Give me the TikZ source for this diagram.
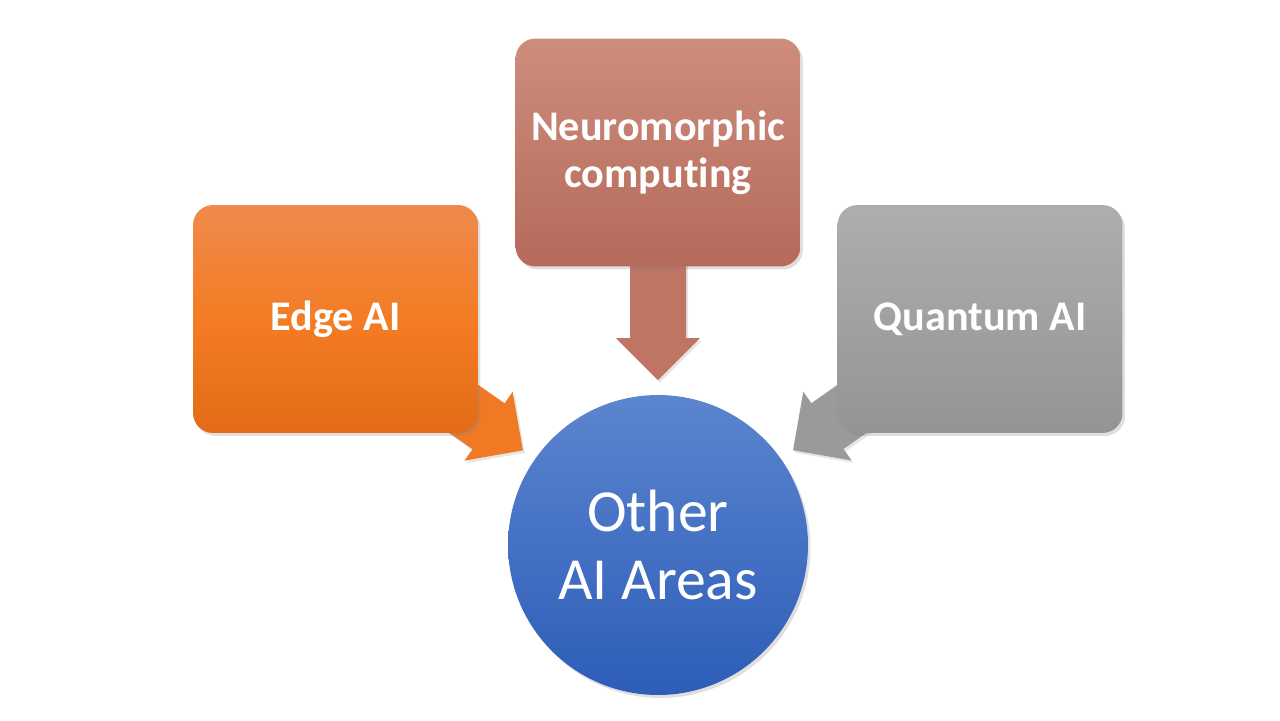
\documentclass[tikz,border=0pt]{standalone}
\usepackage{fontspec}
\setmainfont{Carlito}[Ligatures=NoCommon]
\usetikzlibrary{calc,shadows}
\pgfdeclarelayer{bg}
\pgfsetlayers{bg,main}

\definecolor{neurotop}{HTML}{CD8D7D}
\definecolor{neurobot}{HTML}{B56A5A}
\definecolor{neuroarr}{HTML}{C07464}
\definecolor{edgetop}{HTML}{EF8A4C}
\definecolor{edgemid}{HTML}{F37C24}
\definecolor{edgebot}{HTML}{E36B17}
\definecolor{edgearr}{HTML}{F07A24}
\definecolor{quanttop}{HTML}{AEAEAE}
\definecolor{quantbot}{HTML}{949494}
\definecolor{quantarr}{HTML}{9A9A9A}
\definecolor{othertop}{HTML}{5C85CF}
\definecolor{otherbot}{HTML}{2D5DB8}

\tikzset{
  box/.style={rounded corners=0.4cm, minimum width=5.7cm, minimum height=4.56cm,
    text=white, align=center, font=\bfseries\fontsize{24}{27}\selectfont,
    drop shadow={opacity=0.25, shadow xshift=0.05cm, shadow yshift=-0.06cm}},
  hub/.style={circle, minimum size=6cm, inner sep=0pt, text=white, align=center,
    font=\fontsize{34}{38.5}\selectfont,
    drop shadow={opacity=0.25, shadow xshift=0.05cm, shadow yshift=-0.06cm}},
}

% fat arrow from a box to the hub
\newcommand\bigarrow[2]{%
  \coordinate (#1-tip) at ($(other.center)!3.3cm!(#1.center)$);
  \coordinate (#1-base) at ($(#1-tip)!0.84cm!(#1.center)$);
  \fill[#2, drop shadow={opacity=0.2, shadow xshift=0.04cm, shadow yshift=-0.05cm}]
    ($(#1.center)!0.56cm!90:(#1-tip)$) -- ($(#1-base)!0.56cm!90:(#1-tip)$)
    -- ($(#1-base)!0.84cm!90:(#1-tip)$) -- (#1-tip)
    -- ($(#1-base)!0.84cm!-90:(#1-tip)$) -- ($(#1-base)!0.56cm!-90:(#1-tip)$)
    -- ($(#1.center)!0.56cm!-90:(#1-tip)$) -- cycle;
}

\begin{document}
\begin{tikzpicture}[x=0.02cm, y=-0.02cm]
  \useasboundingbox (0,0) rectangle (1280,720);

  \node[box, top color=neurotop, bottom color=neurobot] (neuro) at (658,152.5) {Neuromorphic\\computing};
  \node[box, top color=edgetop, bottom color=edgebot, middle color=edgemid] (edge) at (335.5,319) {Edge AI};
  \node[box, top color=quanttop, bottom color=quantbot] (quant) at (980,319) {Quantum AI};
  \node[hub, top color=othertop, bottom color=otherbot] (other) at (658,545) {Other\\AI Areas};

  \begin{pgfonlayer}{bg}
    \bigarrow{neuro}{neuroarr}
    \bigarrow{edge}{edgearr}
    \bigarrow{quant}{quantarr}
  \end{pgfonlayer}
\end{tikzpicture}
\end{document}
